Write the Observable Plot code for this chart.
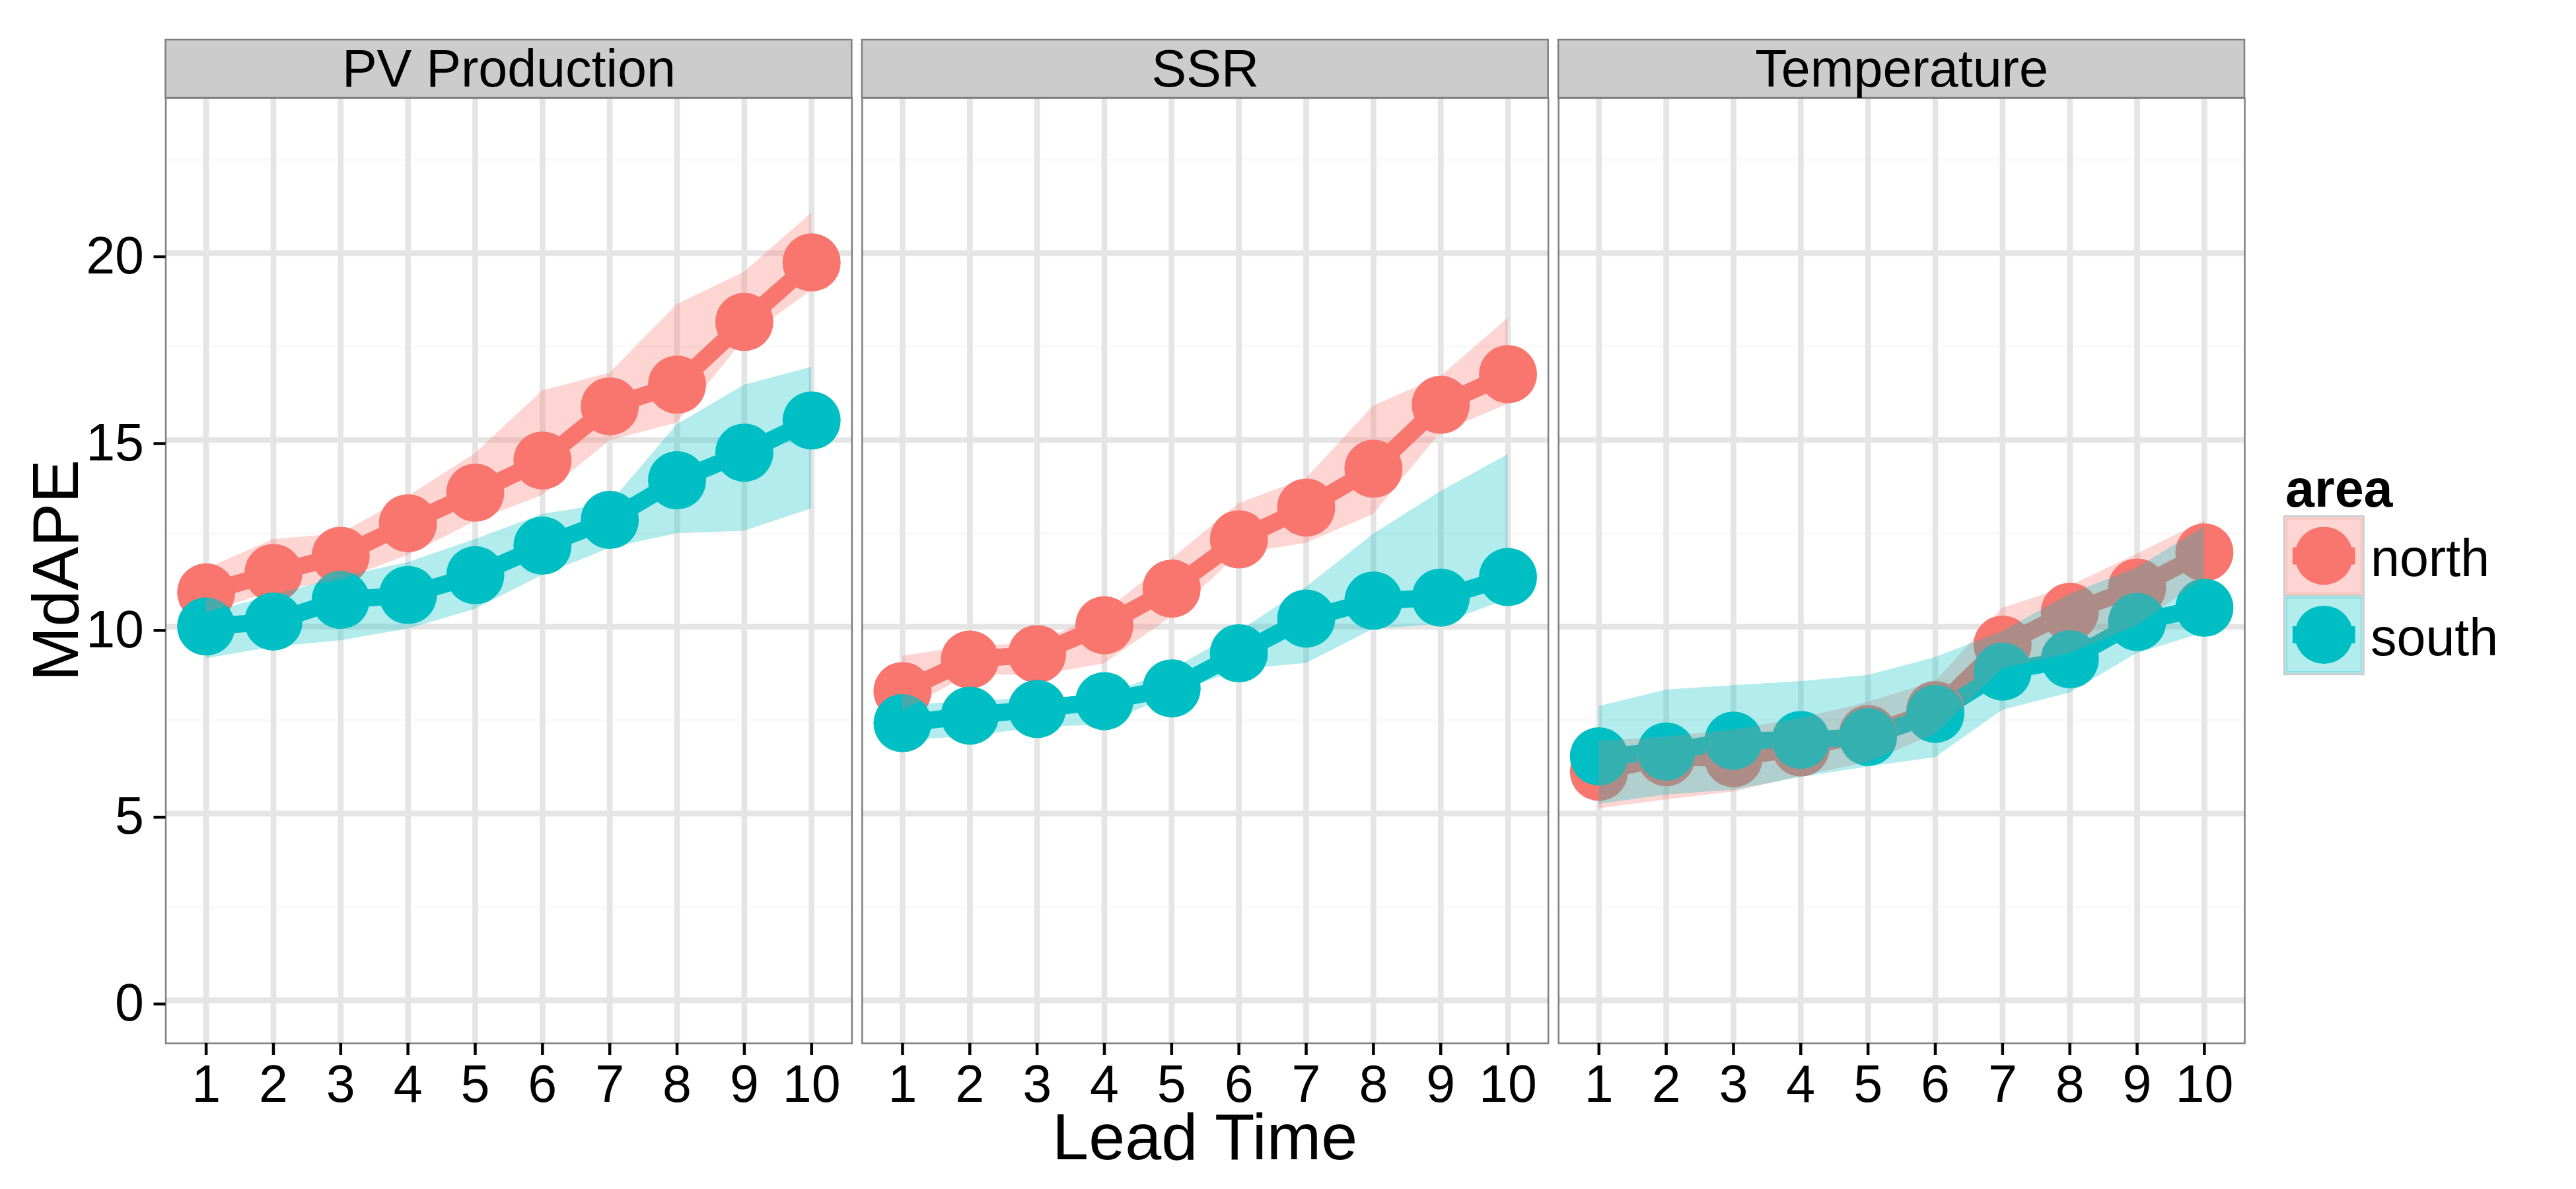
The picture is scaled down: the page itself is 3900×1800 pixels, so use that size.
<!DOCTYPE html>
<html>
<head>
<meta charset="utf-8">
<script src="https://cdn.jsdelivr.net/npm/d3@7"></script>
<script src="https://cdn.jsdelivr.net/npm/@observablehq/plot@0.6"></script>
<style>
  html, body { margin: 0; padding: 0; background: #ffffff; }
  #wrap { position: relative; width: 3900px; height: 1800px; font-family: "Liberation Sans", Arial, Helvetica, sans-serif; }
  #wrap > svg { position: absolute; left: 0; top: 0; }
  #overlay { pointer-events: none; }
</style>
</head>
<body>
<div id="wrap"></div>
<script>
// ---------- data ----------
const panels = ["PV Production", "SSR", "Temperature"];
const areas = ["north", "south"];
const areaColors = ["#F8766D", "#00BFC4"];
const leadTimes = [1, 2, 3, 4, 5, 6, 7, 8, 9, 10];
const yTicks = [0, 5, 10, 15, 20];
const yMinorTicks = [2.5, 7.5, 12.5, 17.5, 22.5];

// PV Production
const pvNorth   = [10.92, 11.44, 11.90, 12.77, 13.59, 14.45, 15.90, 16.48, 18.16, 19.75];
const pvNorthLo = [10.37, 10.95, 11.24, 11.91, 12.82, 13.52, 14.98, 15.46, 17.70, 19.00];
const pvNorthHi = [11.55, 12.34, 12.49, 13.49, 14.64, 16.32, 16.79, 18.63, 19.49, 21.08];
const pvSouth   = [10.01, 10.14, 10.72, 10.85, 11.38, 12.17, 12.86, 13.92, 14.66, 15.52];
const pvSouthLo = [9.15, 9.46, 9.63, 9.94, 10.47, 11.38, 12.10, 12.50, 12.56, 13.16];
const pvSouthHi = [10.35, 10.85, 11.33, 11.72, 12.34, 13.01, 13.30, 15.41, 16.47, 16.95];

// SSR
const ssrNorth   = [8.28, 9.12, 9.27, 10.04, 11.02, 12.34, 13.19, 14.23, 15.94, 16.76];
const ssrNorthLo = [7.74, 8.73, 8.69, 9.01, 10.27, 11.95, 12.24, 13.01, 15.20, 15.96];
const ssrNorthHi = [9.22, 9.48, 9.56, 10.39, 11.81, 13.30, 13.97, 15.91, 16.70, 18.26];
const ssrSouth   = [7.42, 7.62, 7.80, 8.01, 8.35, 9.29, 10.22, 10.70, 10.78, 11.33];
const ssrSouthLo = [6.95, 7.07, 7.30, 7.38, 8.18, 8.86, 9.02, 9.94, 10.07, 10.74];
const ssrSouthHi = [7.90, 8.00, 8.10, 8.14, 8.85, 9.87, 11.06, 12.48, 13.62, 14.61];

// Temperature
const tempNorth   = [6.12, 6.51, 6.48, 6.77, 7.13, 7.77, 9.52, 10.40, 11.05, 11.99];
const tempNorthLo = [5.13, 5.37, 5.58, 6.00, 6.37, 7.12, 8.88, 9.29, 10.03, 11.30];
const tempNorthHi = [6.94, 7.05, 7.24, 7.55, 7.98, 8.54, 10.50, 11.09, 11.95, 12.83];
const tempSouth   = [6.53, 6.66, 6.95, 6.97, 7.05, 7.67, 8.80, 9.13, 10.13, 10.51];
const tempSouthLo = [5.25, 5.50, 5.63, 5.97, 6.25, 6.50, 7.77, 8.23, 9.29, 9.84];
const tempSouthHi = [7.87, 8.31, 8.43, 8.54, 8.70, 9.18, 9.88, 10.87, 11.58, 12.67];

// table built from the arrays above (north rows first, so south is drawn on top)
const seriesTable = [
  ["PV Production", "north", pvNorth, pvNorthLo, pvNorthHi],
  ["SSR", "north", ssrNorth, ssrNorthLo, ssrNorthHi],
  ["Temperature", "north", tempNorth, tempNorthLo, tempNorthHi],
  ["PV Production", "south", pvSouth, pvSouthLo, pvSouthHi],
  ["SSR", "south", ssrSouth, ssrSouthLo, ssrSouthHi],
  ["Temperature", "south", tempSouth, tempSouthLo, tempSouthHi]
];
const rows = [];
for (const [panel, area, v, lo, hi] of seriesTable) {
  leadTimes.forEach((t, j) => rows.push({panel, area, lead: t, value: v[j], lo: lo[j], hi: hi[j]}));
}

// ---------- layout ----------
const W = 3900, H = 1800;
const mL = 250.5, mR = 502, mT = 148, mB = 221;
const xDomain = [0.4, 10.6];
const yDomain = [-1.15, 24.15];
const pxPerY = (H - mT - mB) / (yDomain[1] - yDomain[0]);
const stripPx = 88;
const stripTop = yDomain[1] + stripPx / pxPerY;
const FONT = "'Liberation Sans', Arial, Helvetica, sans-serif";
const small = 79, big = 99;

const chart = Plot.plot({
  width: W,
  height: H,
  marginLeft: mL,
  marginRight: mR,
  marginTop: mT,
  marginBottom: mB,
  style: {fontFamily: FONT, background: "transparent", overflow: "visible", color: "black"},
  fx: {domain: panels, paddingInner: 0.0147, paddingOuter: 0, round: false, axis: null, label: null},
  x: {domain: xDomain},
  y: {domain: yDomain},
  color: {domain: areas, range: areaColors},
  marks: [
    Plot.ruleY(yMinorTicks, {stroke: "#FAFAFA", strokeWidth: 4.35}),
    Plot.ruleY(yTicks, {stroke: "#E5E5E5", strokeWidth: 8.7}),
    Plot.ruleX(leadTimes, {stroke: "#E5E5E5", strokeWidth: 8.7}),
    Plot.line(rows, {fx: "panel", x: "lead", y: "value", z: "area", stroke: "area", strokeWidth: 26, strokeLinejoin: "round", strokeLinecap: "butt"}),
    Plot.dot(rows, {fx: "panel", x: "lead", y: "value", fill: "area", r: 44}),
    Plot.areaY(rows, {fx: "panel", x: "lead", y1: "lo", y2: "hi", z: "area", fill: "area", fillOpacity: 0.3}),
    Plot.frame({stroke: "#7F7F7F", strokeWidth: 2.5}),
    Plot.rect(panels, {fx: d => d, x1: () => xDomain[0], x2: () => xDomain[1], y1: () => yDomain[1], y2: () => stripTop,
      fill: "#CCCCCC", stroke: "#7F7F7F", strokeWidth: 2.5}),
    Plot.text(panels, {fx: d => d, x: () => (xDomain[0] + xDomain[1]) / 2, y: () => (yDomain[1] + stripTop) / 2,
      text: d => d, fontSize: small, fill: "black", dy: 1}),
    Plot.axisX({ticks: leadTimes, tickSize: 18, tickPadding: 14, fontSize: small, strokeWidth: 4.5, stroke: "black", fill: "black", label: null, tickFormat: d => String(d)}),
    Plot.axisY({ticks: yTicks, tickSize: 18, tickPadding: 15, fontSize: small, strokeWidth: 4.5, stroke: "black", fill: "black", label: null, dy: 5.5, tickFormat: d => String(d)})
  ]
});
const wrap = document.getElementById("wrap");
wrap.appendChild(chart);

// ---------- axis titles and legend (overlay) ----------
const NS = "http://www.w3.org/2000/svg";
const ov = document.createElementNS(NS, "svg");
ov.setAttribute("id", "overlay");
ov.setAttribute("width", W);
ov.setAttribute("height", H);
ov.setAttribute("font-family", FONT);
function el(tag, attrs, text) {
  const e = document.createElementNS(NS, tag);
  for (const k in attrs) e.setAttribute(k, attrs[k]);
  if (text != null) e.textContent = text;
  ov.appendChild(e);
  return e;
}
const frameLeft = mL, frameRight = W - mR;
// y title
const yMid = (mT + (H - mB)) / 2;
el("text", {x: 118, y: yMid, transform: `rotate(-90 118 ${yMid})`, "text-anchor": "middle", "font-size": big, fill: "black"}, "MdAPE");
// x title
el("text", {x: (frameLeft + frameRight) / 2, y: 1755, "text-anchor": "middle", "font-size": big, fill: "black"}, "Lead Time");
// legend
const keyX = 3458.3, keyW = 120, keyTop = 781.7, keyH = 119.5;
el("text", {x: 3460, y: 767.3, "font-size": small, "font-weight": "bold", fill: "black"}, "area");
areas.forEach((a, i) => {
  const c = areaColors[i];
  const y0 = keyTop + i * keyH, cy = y0 + keyH / 2, cx = keyX + keyW / 2;
  el("rect", {x: keyX, y: y0, width: keyW, height: keyH, fill: "#ffffff", stroke: "#CCCCCC", "stroke-width": 3});
  el("rect", {x: keyX + 3, y: y0 + 3, width: keyW - 6, height: keyH - 6, fill: c, "fill-opacity": 0.3, stroke: c, "stroke-opacity": 0.3, "stroke-width": 3});
  el("line", {x1: cx - 47.4, x2: cx + 47.4, y1: cy, y2: cy, stroke: c, "stroke-width": 26});
  el("circle", {cx, cy, r: 44, fill: c});
  el("text", {x: 3589, y: cy + 31, "font-size": small, fill: "black"}, a);
});
wrap.appendChild(ov);
</script>
</body>
</html>
